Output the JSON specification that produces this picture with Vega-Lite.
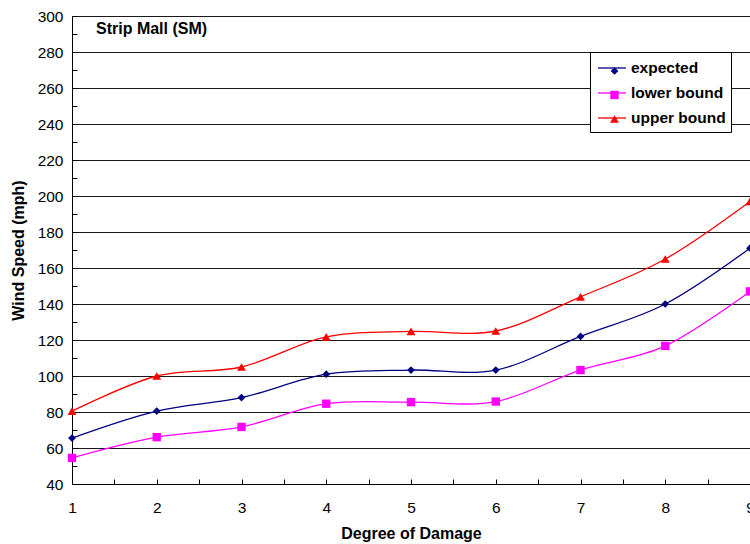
{
  "$schema": "https://vega.github.io/schema/vega-lite/v6.json",
  "autosize": "none",
  "width": 678,
  "height": 468,
  "padding": {"left": 72, "top": 16, "right": 0, "bottom": 60},
  "background": "white",
  "config": {
    "font": "Liberation Sans",
    "view": {"stroke": null},
    "axis": {"labelFont": "Liberation Sans", "titleFont": "Liberation Sans"}
  },
  "title": {
    "text": "Strip Mall (SM)",
    "anchor": "start",
    "frame": "group",
    "baseline": "alphabetic",
    "offset": -19,
    "dx": 24,
    "dy": 22,
    "fontSize": 16,
    "fontWeight": "bold",
    "color": "black",
    "font": "Liberation Sans"
  },
  "data": {
    "values": [
      {"degree": 1, "series": "expected", "speed": 65.5},
      {"degree": 2, "series": "expected", "speed": 80.5},
      {"degree": 3, "series": "expected", "speed": 88},
      {"degree": 4, "series": "expected", "speed": 101},
      {"degree": 5, "series": "expected", "speed": 103.3},
      {"degree": 6, "series": "expected", "speed": 103.3},
      {"degree": 7, "series": "expected", "speed": 122},
      {"degree": 8, "series": "expected", "speed": 140},
      {"degree": 9, "series": "expected", "speed": 171},
      {"degree": 1, "series": "lower bound", "speed": 54.5},
      {"degree": 2, "series": "lower bound", "speed": 66},
      {"degree": 3, "series": "lower bound", "speed": 71.7},
      {"degree": 4, "series": "lower bound", "speed": 84.6},
      {"degree": 5, "series": "lower bound", "speed": 85.5},
      {"degree": 6, "series": "lower bound", "speed": 85.8},
      {"degree": 7, "series": "lower bound", "speed": 103.3},
      {"degree": 8, "series": "lower bound", "speed": 116.7},
      {"degree": 9, "series": "lower bound", "speed": 147},
      {"degree": 1, "series": "upper bound", "speed": 80.5},
      {"degree": 2, "series": "upper bound", "speed": 100},
      {"degree": 3, "series": "upper bound", "speed": 105},
      {"degree": 4, "series": "upper bound", "speed": 121.7},
      {"degree": 5, "series": "upper bound", "speed": 124.8},
      {"degree": 6, "series": "upper bound", "speed": 125},
      {"degree": 7, "series": "upper bound", "speed": 144},
      {"degree": 8, "series": "upper bound", "speed": 165},
      {"degree": 9, "series": "upper bound", "speed": 197}
    ]
  },
  "encoding": {
    "x": {
      "field": "degree",
      "type": "quantitative",
      "scale": {"domain": [1, 9], "nice": false, "zero": false},
      "axis": {
        "title": "Degree of Damage",
        "values": [1, 1.5, 2, 2.5, 3, 3.5, 4, 4.5, 5, 5.5, 6, 6.5, 7, 7.5, 8, 8.5, 9],
        "labelExpr": "datum.value % 1 === 0 ? format(datum.value, 'd') : ''",
        "grid": false,
        "tickSize": -5,
        "tickColor": "black",
        "domainColor": "black",
        "labelColor": "black",
        "labelFontSize": 15.5,
        "labelPadding": 21,
        "labelFlush": false,
        "titleFontSize": 16,
        "titleFontWeight": "bold",
        "titleColor": "black",
        "titlePadding": 10
      }
    },
    "y": {
      "field": "speed",
      "type": "quantitative",
      "scale": {"domain": [40, 300], "nice": false, "zero": false},
      "axis": {
        "title": "Wind Speed (mph)",
        "values": [40, 50, 60, 70, 80, 90, 100, 110, 120, 130, 140, 150, 160, 170, 180, 190, 200, 210, 220, 230, 240, 250, 260, 270, 280, 290, 300],
        "labelExpr": "datum.value % 20 === 0 ? datum.label : ''",
        "grid": true,
        "gridColor": "black",
        "gridWidth": 1,
        "gridOpacity": {"condition": {"test": "datum.value % 20 === 0", "value": 0.9}, "value": 0},
        "tickSize": -5,
        "tickColor": "black",
        "domainColor": "black",
        "labelColor": "black",
        "labelFontSize": 15.5,
        "labelPadding": 14,
        "labelFlush": false,
        "titleFontSize": 16,
        "titleFontWeight": "bold",
        "titleColor": "black",
        "titlePadding": 11
      }
    }
  },
  "layer": [
    {
      "mark": {"type": "line", "interpolate": "cardinal", "strokeWidth": 1.3},
      "encoding": {
        "stroke": {
          "field": "series",
          "type": "nominal",
          "scale": {"domain": ["expected", "lower bound", "upper bound"], "range": ["#000080", "#FF00FF", "#FF0000"]},
          "legend": {
            "title": null,
            "orient": "none",
            "legendX": 518,
            "legendY": 36,
            "padding": 5,
            "strokeColor": "black",
            "fillColor": "white",
            "symbolType": "M-1.4,0H1.4",
            "symbolSize": 400,
            "symbolStrokeWidth": 1.3,
            "symbolOffset": 6,
            "labelOffset": 8,
            "labelFontSize": 15.5,
            "labelFontWeight": "bold",
            "labelColor": "black",
            "labelFont": "Liberation Sans",
            "rowPadding": 5
          }
        }
      }
    },
    {
      "mark": {"type": "point", "filled": true, "opacity": 1, "strokeWidth": 0},
      "encoding": {
        "fill": {
          "field": "series",
          "type": "nominal",
          "scale": {"range": ["#000080", "#FF00FF", "#FF0000"]},
          "legend": {
            "title": null,
            "orient": "none",
            "legendX": 534.5,
            "legendY": 47,
            "padding": 0,
            "labelOpacity": 0,
            "labelExpr": "''",
            "labelFontSize": 16,
            "rowPadding": 8
          }
        },
        "shape": {
          "field": "series",
          "type": "nominal",
          "scale": {"range": ["diamond", "square", "triangle-up"]}
        },
        "size": {
          "field": "series",
          "type": "nominal",
          "scale": {"range": [60, 80, 80]}
        }
      }
    }
  ]
}
